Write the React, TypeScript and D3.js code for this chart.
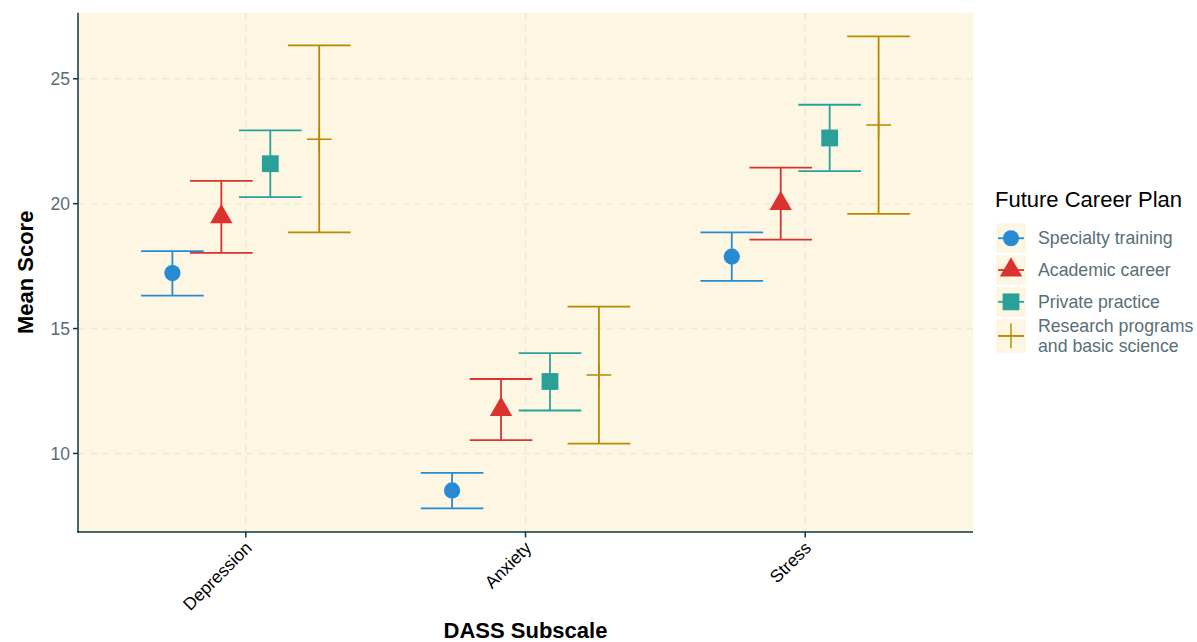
import React from 'react';
import * as d3 from 'd3';

const categories = ['Depression', 'Anxiety', 'Stress'];
const groups = ['Specialty training', 'Academic career', 'Private practice', 'Research programs and basic science'];
const legendLines = [['Specialty training'], ['Academic career'], ['Private practice'], ['Research programs', 'and basic science']];
const groupColors = ['#268BD2', '#DC322F', '#2AA198', '#B58900'];
const groupShapes = ['circle', 'triangle', 'square', 'plus'];

const specialtyMean = [17.22, 8.52, 17.88];
const specialtyLow = [16.32, 7.8, 16.91];
const specialtyHigh = [18.1, 9.22, 18.85];

const academicMean = [19.47, 11.76, 20.0];
const academicLow = [18.03, 10.53, 18.56];
const academicHigh = [20.91, 12.98, 21.44];

const privateMean = [21.6, 12.88, 22.63];
const privateLow = [20.26, 11.72, 21.3];
const privateHigh = [22.93, 14.02, 23.96];

const researchMean = [22.58, 13.14, 23.15];
const researchLow = [18.85, 10.39, 19.59];
const researchHigh = [26.34, 15.88, 26.7];

const yTicks = [10, 15, 20, 25];

const meanSets = [specialtyMean, academicMean, privateMean, researchMean];
const lowSets = [specialtyLow, academicLow, privateLow, researchLow];
const highSets = [specialtyHigh, academicHigh, privateHigh, researchHigh];

const W = 1197;
const H = 642;
const panel = { left: 78, right: 973, top: 12.7, bottom: 532 };
const FONT = '"Liberation Sans", Arial, Helvetica, sans-serif';
const BG = '#FDF6E3';
const GRID = '#EEE8D5';
const AXIS = '#073642';
const TEXT_GREY = '#586E75';

function Shape({ kind, x, y, color }: { kind: string; x: number; y: number; color: string }) {
  if (kind === 'circle') return <circle cx={x} cy={y} r={8.1} fill={color} />;
  if (kind === 'triangle') {
    const u = 8.3;
    const p = d3.path();
    p.moveTo(x, y - 1.555 * u);
    p.lineTo(x + 1.347 * u, y + 0.778 * u);
    p.lineTo(x - 1.347 * u, y + 0.778 * u);
    p.closePath();
    return <path d={p.toString()} fill={color} />;
  }
  if (kind === 'square') return <rect x={x - 8.4} y={y - 8.4} width={16.8} height={16.8} fill={color} />;
  const s = 12.3;
  const p = d3.path();
  p.moveTo(x - s, y);
  p.lineTo(x + s, y);
  p.moveTo(x, y - s);
  p.lineTo(x, y + s);
  return <path d={p.toString()} stroke={color} strokeWidth={1.4} fill="none" />;
}

export default function App() {
  const all = [...lowSets.flat(), ...highSets.flat()];
  const lo = d3.min(all) as number;
  const hi = d3.max(all) as number;
  const pad = (hi - lo) * 0.05;
  const y = d3.scaleLinear().domain([lo - pad, hi + pad]).range([panel.bottom, panel.top]);
  const x = d3.scaleLinear().domain([0.4, categories.length + 0.6]).range([panel.left, panel.right]);
  const dodgeW = 0.7;
  const n = groups.length;
  const offset = (g: number) => -dodgeW / 2 + dodgeW / n * (g + 0.5);
  const barHalf = 0.112;

  return (
    <div>
      <style>{'body{margin:0}'}</style>
      <svg width={W} height={H} style={{ display: 'block', background: '#fff' }} fontFamily={FONT}>
        <rect x={panel.left} y={panel.top} width={panel.right - panel.left} height={panel.bottom - panel.top} fill={BG} />
        {yTicks.map((t) => (
          <line key={'gy' + t} x1={panel.left} x2={panel.right} y1={y(t)} y2={y(t)} stroke={GRID} strokeWidth={1.4} strokeDasharray="7,5" />
        ))}
        {categories.map((c, i) => (
          <line key={'gx' + c} x1={x(i + 1)} x2={x(i + 1)} y1={panel.top} y2={panel.bottom} stroke={GRID} strokeWidth={1.4} strokeDasharray="7,5" />
        ))}
        {groups.map((g, gi) =>
          categories.map((c, ci) => {
            const cx = x(ci + 1 + offset(gi));
            const x0 = x(ci + 1 + offset(gi) - barHalf);
            const x1 = x(ci + 1 + offset(gi) + barHalf);
            const yl = y(lowSets[gi][ci]);
            const yh = y(highSets[gi][ci]);
            const col = groupColors[gi];
            return (
              <g key={g + c}>
                <line x1={cx} x2={cx} y1={yl} y2={yh} stroke={col} strokeWidth={1.8} />
                <line x1={x0} x2={x1} y1={yl} y2={yl} stroke={col} strokeWidth={1.8} />
                <line x1={x0} x2={x1} y1={yh} y2={yh} stroke={col} strokeWidth={1.8} />
                <Shape kind={groupShapes[gi]} x={cx} y={y(meanSets[gi][ci])} color={col} />
              </g>
            );
          })
        )}
        {/* axes */}
        <line x1={panel.left} x2={panel.left} y1={panel.top} y2={panel.bottom + 0.75} stroke={AXIS} strokeWidth={1.5} />
        <line x1={panel.left - 0.75} x2={panel.right} y1={panel.bottom} y2={panel.bottom} stroke={AXIS} strokeWidth={1.5} />
        {yTicks.map((t) => (
          <g key={'ty' + t}>
            <line x1={panel.left - 5} x2={panel.left} y1={y(t)} y2={y(t)} stroke={AXIS} strokeWidth={1.5} />
            <text x={panel.left - 8} y={y(t) + 6.2} textAnchor="end" fontSize={17.5} fill={TEXT_GREY}>{t}</text>
          </g>
        ))}
        {categories.map((c, i) => (
          <g key={'tx' + c}>
            <line x1={x(i + 1)} x2={x(i + 1)} y1={panel.bottom} y2={panel.bottom + 5.5} stroke={AXIS} strokeWidth={1.5} />
            <text transform={`translate(${x(i + 1) + 7},${panel.bottom + 17}) rotate(-45)`} textAnchor="end" fontSize={17.5} fill="#000">{c}</text>
          </g>
        ))}
        <text x={(panel.left + panel.right) / 2} y={638} textAnchor="middle" fontSize={22} fontWeight="bold" fill="#000">DASS Subscale</text>
        <text transform={`translate(33,${(panel.top + panel.bottom) / 2}) rotate(-90)`} textAnchor="middle" fontSize={22} fontWeight="bold" fill="#000">Mean Score</text>
        {/* legend */}
        <text x={995} y={207} fontSize={22} fill="#000">Future Career Plan</text>
        {groups.map((g, gi) => {
          const top = 223.5 + gi * 31.8;
          const h = gi === 3 ? 34 : 29.5;
          const cy = top + h / 2;
          const col = groupColors[gi];
          const lines = legendLines[gi];
          return (
            <g key={'lg' + g}>
              <rect x={996} y={top} width={30} height={h} fill={BG} />
              <line x1={998} x2={1024} y1={cy} y2={cy} stroke={col} strokeWidth={1.8} />
              <Shape kind={groupShapes[gi]} x={1011} y={cy} color={col} />
              {lines.map((l, li) => (
                <text key={l} x={1038} y={cy + 6 + (li - (lines.length - 1) / 2) * 20.5} fontSize={17.7} fill={TEXT_GREY}>{l}</text>
              ))}
            </g>
          );
        })}
      </svg>
    </div>
  );
}
